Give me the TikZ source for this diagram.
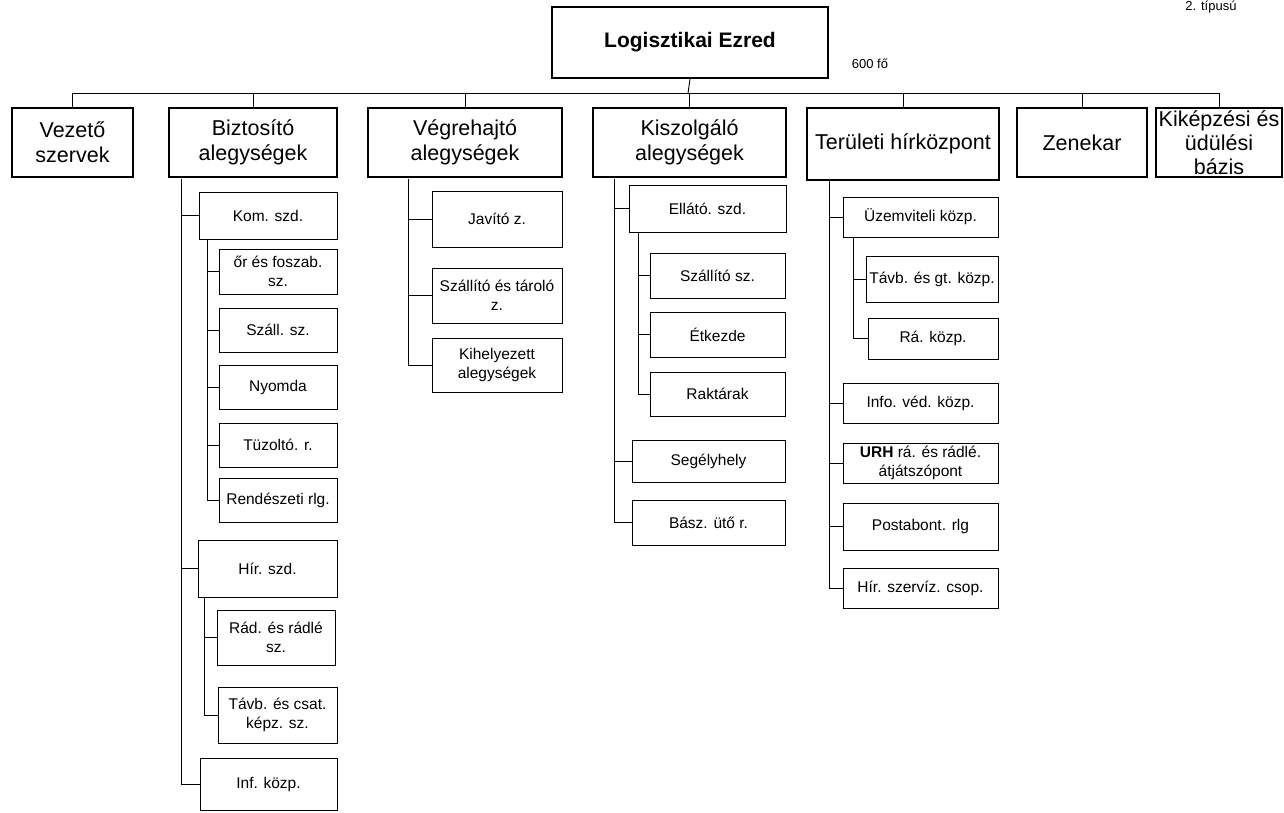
\documentclass[tikz,border=0pt]{standalone}
\usepackage{fontspec}
\setmainfont{Liberation Sans}
\begin{document}
\begin{tikzpicture}[x=1pt,y=-1pt,line width=0.9pt]
  \tikzset{box/.style={draw, line width=1.1pt, inner sep=0pt, align=center, minimum height=69pt, font=\fontsize{21.5}{25}\selectfont},
           sub/.style={draw, line width=1pt, inner sep=0pt, align=center, font=\fontsize{15.5}{19}\selectfont}}
  \useasboundingbox (0,0) rectangle (1284,812);
  \node[draw, line width=2pt, inner sep=0pt, minimum width=276pt, minimum height=71pt, font=\fontsize{21}{25}\selectfont\bfseries] (logi) at (690,42.5) {Logisztikai Ezred};
  \node[font=\fontsize{13}{15}\selectfont] (letszam) at (870,64) {600 fő};
  \node[font=\fontsize{13}{15}\selectfont, anchor=base] (tipus) at (1211,10) {2. típusú};
  \node[box, minimum width=121pt] (vez) at (72.5,142.5) {Vezető\\szervek};
  \node[box, minimum width=168pt] (bizt) at (253,142.5) {Biztosító\\alegységek};
  \node[box, minimum width=194pt] (vegr) at (465,142.5) {Végrehajtó\\alegységek};
  \node[box, minimum width=193pt] (kisz) at (689.5,142.5) {Kiszolgáló\\alegységek};
  \node[box, minimum width=192pt, minimum height=72pt] (ter) at (903,144) {Területi hírközpont};
  \node[box, minimum width=130pt] (zen) at (1082,142.5) {Zenekar};
  \node[box, minimum width=126pt, font=\fontsize{21.5}{24}\selectfont] (kik) at (1219,142.5) {Kiképzési és\\üdülési\\bázis};
  \coordinate (bus) at (688,93);
  \draw (logi.south) -- (bus);
  \foreach \n in {vez,bizt,vegr,kisz,ter,zen,kik}
    \draw (bus) -| (\n.north);
  \node[sub, minimum width=138pt, minimum height=47pt] (kom) at (268,215.5) {Kom. szd.};
  \node[sub, minimum width=118pt, minimum height=45pt] (or) at (278,271.5) {őr és foszab.\\sz.};
  \node[sub, minimum width=118pt, minimum height=44pt] (szall) at (278,330) {Száll. sz.};
  \node[sub, minimum width=118pt, minimum height=44pt] (nyom) at (278,387) {Nyomda};
  \node[sub, minimum width=118pt, minimum height=44pt] (tuz) at (278,445) {Tüzoltó. r.};
  \node[sub, minimum width=118pt, minimum height=44pt] (rend) at (278,500) {Rendészeti rlg.};
  \node[sub, minimum width=139pt, minimum height=57pt] (hir) at (267.5,568.5) {Hír. szd.};
  \node[sub, minimum width=118pt, minimum height=55pt] (rad) at (276,637.5) {Rád. és rádlé\\sz.};
  \node[sub, minimum width=119pt, minimum height=56pt] (tavb) at (277.5,715) {Távb. és csat.\\képz. sz.};
  \node[sub, minimum width=137pt, minimum height=52pt] (inf) at (268.5,784) {Inf. közp.};
  \coordinate (biztr) at (181,179);
  \coordinate (komtr) at (207,239);
  \coordinate (hirtr) at (204,597);
  \foreach \n in {kom,hir,inf} \draw (biztr) |- (\n.west);
  \foreach \n in {or,szall,nyom,tuz,rend} \draw (komtr) |- (\n.west);
  \foreach \n in {rad,tavb} \draw (hirtr) |- (\n.west);
  \node[sub, minimum width=130pt, minimum height=56pt] (jav) at (497,219) {Javító z.};
  \node[sub, minimum width=130pt, minimum height=55pt] (szt) at (497,295.5) {Szállító és tároló\\z.};
  \node[sub, minimum width=130pt, minimum height=54pt] (kih) at (497,365) {Kihelyezett\\alegységek};
  \coordinate (vegrtr) at (408,179);
  \foreach \n in {jav,szt,kih} \draw (vegrtr) |- (\n.west);
  \node[sub, minimum width=157pt, minimum height=47pt] (ell) at (707.5,208.5) {Ellátó. szd.};
  \node[sub, minimum width=135pt, minimum height=45pt] (szs) at (717.5,275.5) {Szállító sz.};
  \node[sub, minimum width=135pt, minimum height=45pt] (etk) at (717.5,334.5) {Étkezde};
  \node[sub, minimum width=135pt, minimum height=44pt] (rak) at (717.5,394) {Raktárak};
  \node[sub, minimum width=153pt, minimum height=42pt] (seg) at (708.5,461) {Segélyhely};
  \node[sub, minimum width=153pt, minimum height=45pt] (basz) at (708.5,522.5) {Bász. ütő r.};
  \coordinate (kisztr) at (614,179);
  \coordinate (elltr) at (638,232);
  \foreach \n in {ell,seg,basz} \draw (kisztr) |- (\n.west);
  \foreach \n in {szs,etk,rak} \draw (elltr) |- (\n.west);
  \node[sub, minimum width=155pt, minimum height=40pt] (uzem) at (920.5,217) {Üzemviteli közp.};
  \node[sub, minimum width=132pt, minimum height=46pt] (tgk) at (932,279) {Távb. és gt. közp.};
  \node[sub, minimum width=130pt, minimum height=41pt] (rakp) at (933,338.5) {Rá. közp.};
  \node[sub, minimum width=155pt, minimum height=40pt] (info) at (920.5,403) {Info. véd. közp.};
  \node[sub, minimum width=155pt, minimum height=40pt] (urh) at (920.5,463) {\textbf{URH} rá. és rádlé.\\átjátszópont};
  \node[sub, minimum width=155pt, minimum height=47pt] (posta) at (920.5,526.5) {Postabont. rlg};
  \node[sub, minimum width=155pt, minimum height=40pt] (hszc) at (920.5,588) {Hír. szervíz. csop.};
  \coordinate (tertr) at (829,180);
  \coordinate (uzemtr) at (853,237);
  \foreach \n in {uzem,info,urh,posta,hszc} \draw (tertr) |- (\n.west);
  \foreach \n in {tgk,rakp} \draw (uzemtr) |- (\n.west);
\end{tikzpicture}
\end{document}
